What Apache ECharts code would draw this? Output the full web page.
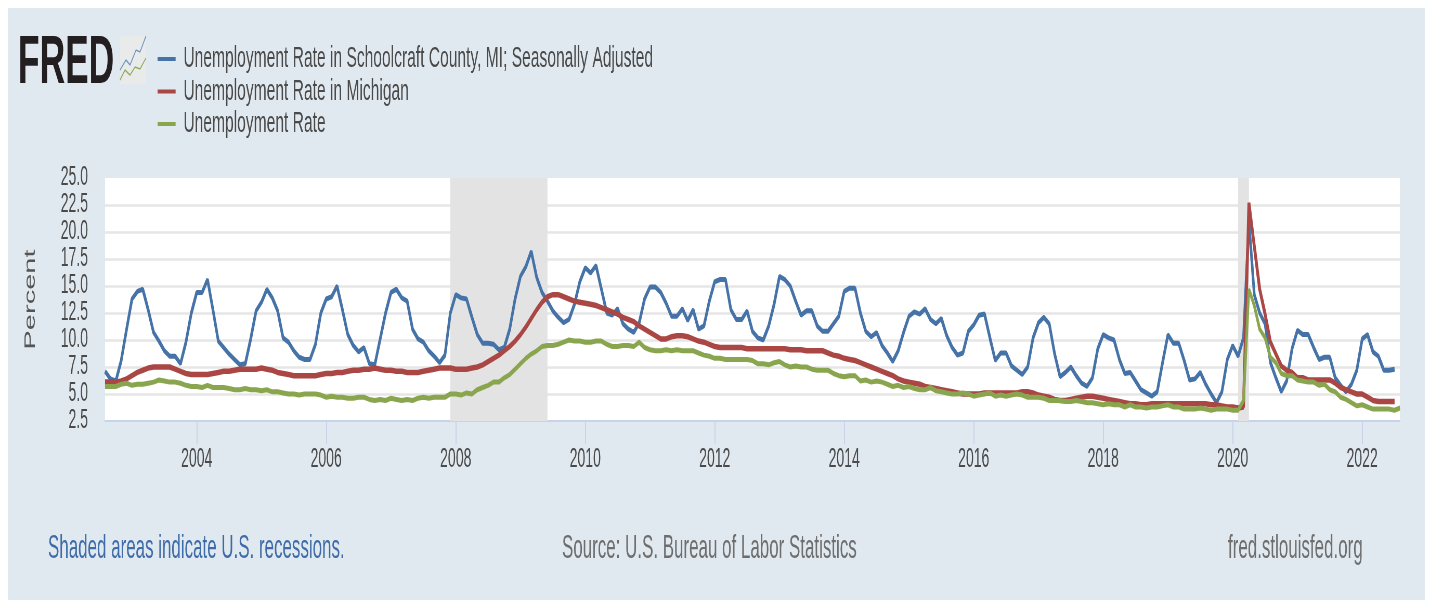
<!DOCTYPE html>
<html>
<head>
<meta charset="utf-8">
<title>FRED unemployment</title>
<script src="https://cdn.jsdelivr.net/npm/echarts@6/dist/echarts.min.js"></script>
<style>
  html, body { margin: 0; background: #fff; overflow: hidden; }
  #panel { position: absolute; left: 8px; top: 8px; width: 1417px; height: 592px; background: #e1e9f0; }
  /* the reference is a squeezed screenshot, so the whole chart is squeezed the same way */
  #chart { position: absolute; left: 0; top: 0; width: 2748px; height: 601px; transform: scaleX(0.52); transform-origin: left top; }
</style>
</head>
<body>
<div id="panel"></div>
<div id="chart"></div>
<script>
const squeeze = 0.52;
const px = (x) => x / squeeze;

const months = [];
for (let y = 2002, m = 8; y < 2022 || (y === 2022 && m <= 8); m++) {
  if (m > 12) { m = 1; y++; }
  months.push(y + "-" + String(m).padStart(2, "0"));
}
const yTicks = { min: 2.5, max: 25, step: 2.5 };

const schoolcraft = [
  7.1, 6.4, 6.2, 8.1, 11.0,
  13.8, 14.5, 14.7, 12.8, 10.7, 9.9, 9.0, 8.5, 8.5, 7.8, 9.8, 12.5,
  14.4, 14.4, 15.6, 12.8, 9.9, 9.3, 8.7, 8.2, 7.7, 7.8, 10.1, 12.7,
  13.5, 14.7, 13.9, 12.7, 10.2, 9.8, 9.0, 8.4, 8.2, 8.2, 9.6, 12.5,
  13.8, 14.0, 15.0, 12.8, 10.5, 9.5, 8.9, 9.3, 7.8, 7.7, 10.1, 12.5,
  14.4, 14.7, 13.9, 13.6, 11.0, 10.1, 9.8, 9.0, 8.5, 7.9, 8.6, 12.5,
  14.2, 13.9, 13.8, 12.1, 10.5, 9.7, 9.7, 9.6, 9.1, 9.3, 11.0, 13.8,
  15.9, 16.8, 18.2, 15.8, 14.4, 13.6, 12.7, 12.1, 11.6, 11.9, 13.3, 15.4,
  16.7, 16.2, 16.9, 14.7, 12.5, 12.3, 12.9, 11.5, 11.0, 10.7, 11.6, 13.8,
  14.9, 14.9, 14.4, 13.4, 12.2, 12.2, 12.9, 11.8, 12.8, 11.0, 11.3, 13.6,
  15.4, 15.6, 15.6, 12.8, 11.9, 11.9, 12.7, 10.8, 10.2, 10.0, 11.3, 13.3,
  15.9, 15.6, 15.0, 13.6, 12.3, 12.7, 12.7, 11.3, 10.8, 10.8, 11.5, 12.2,
  14.5, 14.8, 14.8, 12.5, 10.8, 10.3, 10.7, 9.5, 8.8, 8.0, 9.0, 10.7,
  12.2, 12.6, 12.4, 12.9, 11.9, 11.5, 12.0, 10.4, 9.3, 8.6, 8.8, 10.8,
  11.4, 12.3, 12.4, 10.2, 8.1, 8.8, 8.8, 7.6, 7.2, 6.8, 7.5, 10.2,
  11.6, 12.1, 11.5, 8.7, 6.6, 7.0, 7.5, 6.7, 6.0, 5.7, 6.5, 9.2,
  10.5, 10.2, 10.0, 8.2, 6.9, 7.0, 6.2, 5.4, 5.1, 4.8, 5.2, 7.9,
  10.5, 9.7, 9.7, 8.1, 6.3, 6.4, 7.0, 5.9, 5.0, 4.2, 5.2, 8.2,
  9.5, 8.5, 10.2, 21.0, 14.2, 12.5, 11.5, 7.9, 6.5, 5.2, 6.2, 9.2,
  10.9, 10.5, 10.5, 9.3, 8.2, 8.4, 8.4, 6.5, 5.8, 5.2, 5.9, 7.2,
  10.1, 10.5, 8.9, 8.5, 7.2, 7.2, 7.3
];
const michigan = [
  6.1, 6.1, 6.1, 6.2, 6.4,
  6.7, 7.0, 7.2, 7.4, 7.5, 7.5, 7.5, 7.5, 7.3, 7.1, 6.9, 6.8,
  6.8, 6.8, 6.8, 6.9, 7.0, 7.1, 7.1, 7.2, 7.3, 7.3, 7.3, 7.3,
  7.4, 7.3, 7.2, 7.0, 6.9, 6.8, 6.7, 6.7, 6.7, 6.7, 6.7, 6.8,
  6.9, 6.9, 7.0, 7.0, 7.1, 7.2, 7.2, 7.3, 7.3, 7.4, 7.3, 7.2,
  7.2, 7.1, 7.1, 7.0, 7.0, 7.0, 7.1, 7.2, 7.3, 7.4, 7.4, 7.4,
  7.3, 7.3, 7.3, 7.4, 7.5, 7.7, 8.0, 8.3, 8.6, 9.0, 9.4, 9.9,
  10.5, 11.2, 12.0, 12.8, 13.5, 14.0, 14.2, 14.2, 14.0, 13.8, 13.6, 13.5,
  13.4, 13.3, 13.2, 13.0, 12.8, 12.6, 12.4, 12.1, 11.9, 11.7, 11.3, 11.0,
  10.7, 10.4, 10.1, 10.1, 10.3, 10.4, 10.4, 10.3, 10.1, 9.9, 9.8, 9.6,
  9.4, 9.3, 9.3, 9.3, 9.3, 9.3, 9.2, 9.2, 9.2, 9.2, 9.2, 9.2,
  9.2, 9.2, 9.1, 9.1, 9.1, 9.0, 9.0, 9.0, 9.0, 8.8, 8.6, 8.5,
  8.3, 8.2, 8.1, 7.9, 7.7, 7.5, 7.3, 7.1, 6.9, 6.7, 6.4, 6.2,
  6.1, 6.0, 5.9, 5.7, 5.6, 5.5, 5.4, 5.3, 5.2, 5.1, 5.0, 5.0,
  5.0, 5.0, 5.1, 5.1, 5.1, 5.1, 5.1, 5.1, 5.1, 5.2, 5.2, 5.1,
  4.9, 4.8, 4.7, 4.5, 4.4, 4.4, 4.5, 4.6, 4.7, 4.8, 4.8, 4.7,
  4.6, 4.5, 4.4, 4.3, 4.2, 4.1, 4.1, 4.0, 4.0, 4.1, 4.1, 4.1,
  4.1, 4.1, 4.1, 4.1, 4.1, 4.1, 4.1, 4.1, 4.0, 4.0, 3.9, 3.8,
  3.8, 3.7, 3.8, 22.7, 18.7, 14.7, 12.4, 9.8, 8.7, 7.6, 7.2, 7.0,
  6.5, 6.5, 6.3, 6.3, 6.3, 6.3, 6.3, 6.0, 5.6, 5.4, 5.2, 5.0,
  5.0, 4.7, 4.4, 4.3, 4.3, 4.3, 4.3
];
const national = [
  5.7, 5.7, 5.7, 5.9, 6.0,
  5.8, 5.9, 5.9, 6.0, 6.1, 6.3, 6.2, 6.1, 6.1, 6.0, 5.8, 5.7,
  5.7, 5.6, 5.8, 5.6, 5.6, 5.6, 5.5, 5.4, 5.4, 5.5, 5.4, 5.4,
  5.3, 5.4, 5.2, 5.2, 5.1, 5.0, 5.0, 4.9, 5.0, 5.0, 5.0, 4.9,
  4.7, 4.8, 4.7, 4.7, 4.6, 4.6, 4.7, 4.7, 4.5, 4.4, 4.5, 4.4,
  4.6, 4.5, 4.4, 4.5, 4.4, 4.6, 4.7, 4.6, 4.7, 4.7, 4.7, 5.0,
  5.0, 4.9, 5.1, 5.0, 5.4, 5.6, 5.8, 6.1, 6.1, 6.5, 6.8, 7.3,
  7.8, 8.3, 8.7, 9.0, 9.4, 9.5, 9.5, 9.6, 9.8, 10.0, 9.9, 9.9,
  9.8, 9.8, 9.9, 9.9, 9.6, 9.4, 9.4, 9.5, 9.5, 9.4, 9.8, 9.3,
  9.1, 9.0, 9.0, 9.1, 9.0, 9.1, 9.0, 9.0, 9.0, 8.8, 8.6, 8.5,
  8.3, 8.3, 8.2, 8.2, 8.2, 8.2, 8.2, 8.1, 7.8, 7.8, 7.7, 7.9,
  8.0, 7.7, 7.5, 7.6, 7.5, 7.5, 7.3, 7.2, 7.2, 7.2, 6.9, 6.7,
  6.6, 6.7, 6.7, 6.2, 6.3, 6.1, 6.2, 6.1, 5.9, 5.7, 5.8, 5.6,
  5.7, 5.5, 5.4, 5.4, 5.6, 5.3, 5.2, 5.1, 5.0, 5.0, 5.1, 5.0,
  4.8, 4.9, 5.0, 5.1, 4.8, 4.9, 4.8, 4.9, 5.0, 4.9, 4.7, 4.7,
  4.7, 4.6, 4.4, 4.4, 4.4, 4.3, 4.3, 4.4, 4.3, 4.2, 4.2, 4.1,
  4.0, 4.1, 4.0, 4.0, 3.8, 4.0, 3.8, 3.8, 3.7, 3.8, 3.8, 3.9,
  4.0, 3.8, 3.8, 3.6, 3.6, 3.6, 3.7, 3.6, 3.5, 3.6, 3.6, 3.6,
  3.5, 3.5, 4.4, 14.7, 13.2, 11.0, 10.2, 8.4, 7.9, 6.9, 6.7, 6.7,
  6.3, 6.2, 6.1, 6.1, 5.8, 5.9, 5.4, 5.2, 4.7, 4.5, 4.2, 3.9,
  4.0, 3.8, 3.6, 3.6, 3.6, 3.6, 3.5, 3.7
];
const recessions = [["2007-12", "2009-06"], ["2020-02", "2020-04"]];
const seriesNames = [
  "Unemployment Rate in Schoolcraft County, MI; Seasonally Adjusted",
  "Unemployment Rate in Michigan",
  "Unemployment Rate"
];

const font = '"Liberation Sans", sans-serif';
const isEvenYearStart = (i) => {
  const [y, m] = months[i].split("-");
  return m === "01" && Number(y) % 2 === 0;
};

const chart = echarts.init(document.getElementById("chart"));
chart.setOption({
  animation: false,
  backgroundColor: "transparent",
  grid: { left: px(105), right: px(29), top: 178, bottom: 180, backgroundColor: "#fff", show: true, borderWidth: 0 },
  legend: {
    left: px(155),
    top: 39,
    orient: "vertical",
    itemWidth: px(18),
    itemHeight: 4,
    itemGap: 2.5,
    icon: "rect",
    textStyle: { fontFamily: font, fontSize: 30, color: "#4a4a4a", padding: [0, 0, 0, 10] },
    data: seriesNames
  },
  title: [
    { text: "Shaded areas indicate U.S. recessions.", left: px(48), top: 533,
      textStyle: { fontFamily: font, fontSize: 32.6, fontWeight: "normal", color: "#3f6ca8" }, padding: 0 },
    { text: "Source: U.S. Bureau of Labor Statistics", left: px(562), top: 533,
      textStyle: { fontFamily: font, fontSize: 32.6, fontWeight: "normal", color: "#6e6e6e" }, padding: 0 },
    { text: "fred.stlouisfed.org", left: px(1228), top: 533,
      textStyle: { fontFamily: font, fontSize: 32.6, fontWeight: "normal", color: "#6e6e6e" }, padding: 0 }
  ],
  xAxis: {
    type: "category",
    data: months,
    boundaryGap: false,
    axisLine: { lineStyle: { color: "#c7d3ea", width: 2 } },
    axisTick: { length: 23, interval: (i) => isEvenYearStart(i), lineStyle: { color: "#c7d3ea", width: 2 } },
    axisLabel: {
      interval: (i) => isEvenYearStart(i),
      formatter: (v) => v.slice(0, 4),
      fontFamily: font, fontSize: 27, color: "#4a4a4a", margin: 25
    },
    splitLine: { show: false }
  },
  yAxis: {
    type: "value",
    min: yTicks.min,
    max: yTicks.max,
    interval: yTicks.step,
    name: "Percent",
    nameLocation: "middle",
    nameGap: px(67),
    nameTextStyle: { fontFamily: font, fontSize: 29, color: "#555" },
    axisLine: { show: false },
    axisTick: { show: false },
    axisLabel: {
      formatter: (v) => v.toFixed(1), fontFamily: font, fontSize: 27, color: "#4a4a4a",
      margin: px(17), padding: [4, 0, 0, 0]
    },
    splitLine: { showMinLine: false, showMaxLine: false, lineStyle: { color: "#e6e6e6", width: 2.5 } }
  },
  series: [
    {
      name: seriesNames[0], type: "line", data: schoolcraft, showSymbol: false,
      lineStyle: { color: "#4572a7", width: 5 }, itemStyle: { color: "#4572a7" },
      markArea: {
        silent: true,
        itemStyle: { color: "#e3e3e3" },
        data: recessions.map((r) => [{ xAxis: r[0] }, { xAxis: r[1] }])
      }
    },
    {
      name: seriesNames[1], type: "line", data: michigan, showSymbol: false,
      lineStyle: { color: "#aa4643", width: 5.5 }, itemStyle: { color: "#aa4643" }
    },
    {
      name: seriesNames[2], type: "line", data: national, showSymbol: false,
      lineStyle: { color: "#89a54e", width: 5 }, itemStyle: { color: "#89a54e" }
    }
  ],
  graphic: [
    { type: "text", left: px(18), top: 30, style: {
        text: "FRED", fontFamily: font, fontWeight: "bold", fontSize: 68, fill: "#231f20" } },
    { type: "rect", shape: { x: px(120), y: 36, width: px(26), height: 48 }, style: { fill: "#e9eaea" } },
    { type: "polyline", shape: { points: [[px(120), 70], [px(126), 60], [px(130), 65], [px(136), 50], [px(140), 52], [px(146), 36]] },
      style: { stroke: "#6a94c0", fill: null, lineWidth: 1.5 } },
    { type: "polyline", shape: { points: [[px(120), 80], [px(125), 70], [px(130), 75], [px(135), 67], [px(140), 69], [px(146), 58]] },
      style: { stroke: "#8fa95a", fill: null, lineWidth: 1.5 } }
  ]
});
</script>
</body>
</html>
